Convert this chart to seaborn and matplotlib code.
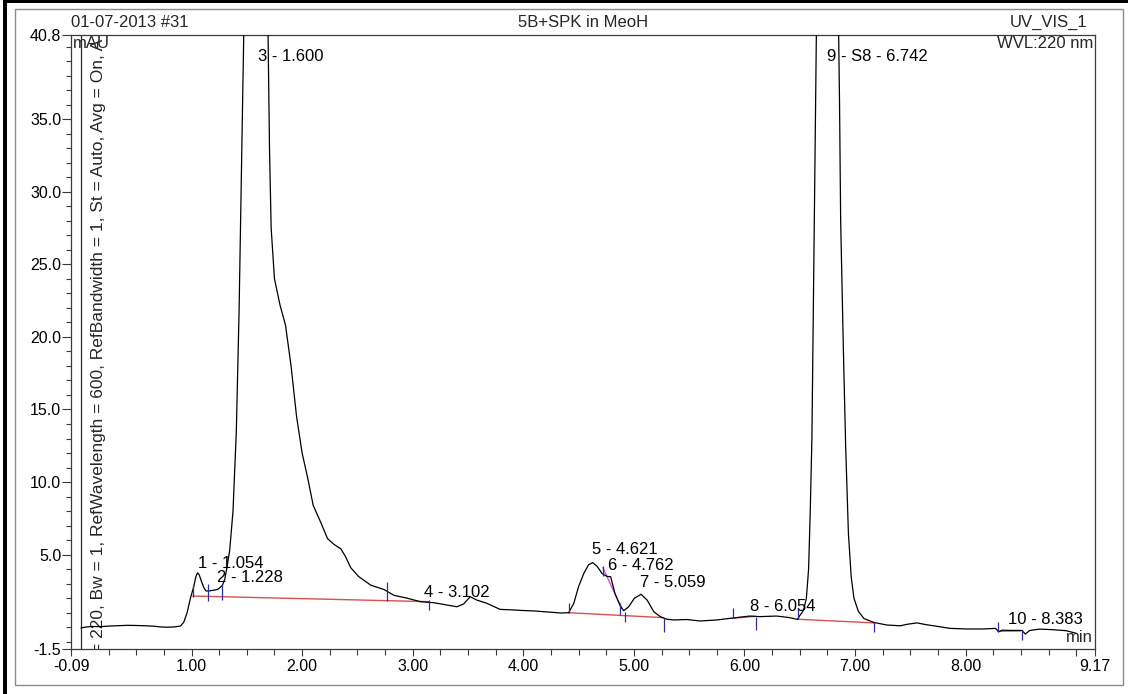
import numpy as np
import matplotlib
matplotlib.use("Agg")
import matplotlib.pyplot as plt
from matplotlib.patches import Rectangle
import seaborn as sns

# --- chromatogram trace (retention time in min, absorbance in mAU) ---
time_min = [
    0.00, 0.05, 0.10, 0.18, 0.25, 0.32, 0.42, 0.50, 0.58, 0.66, 0.72, 0.78, 0.84, 0.90,
    0.93, 0.96, 0.99, 1.02, 1.04, 1.055, 1.07, 1.09, 1.11, 1.13, 1.16, 1.20, 1.235, 1.26,
    1.28, 1.30, 1.32, 1.345, 1.375, 1.405, 1.43, 1.445, 1.46, 1.475, 1.52, 1.60, 1.66,
    1.69, 1.705, 1.72, 1.75, 1.80, 1.85, 1.90, 1.95, 2.00, 2.05, 2.10, 2.17, 2.23, 2.29,
    2.35, 2.39, 2.44, 2.51, 2.62, 2.74, 2.83, 2.95, 3.07, 3.19, 3.31, 3.40, 3.46, 3.52,
    3.58, 3.67, 3.79, 3.91, 4.00, 4.10, 4.22, 4.34, 4.41, 4.457, 4.50, 4.547, 4.59, 4.628,
    4.667, 4.713, 4.757, 4.79, 4.83, 4.878, 4.908, 4.953, 5.005, 5.065, 5.12, 5.18, 5.24,
    5.30, 5.36, 5.48, 5.60, 5.75, 5.90, 6.05, 6.14, 6.29, 6.41, 6.48, 6.50, 6.52, 6.535,
    6.56, 6.58, 6.595, 6.61, 6.63, 6.65, 6.69, 6.742, 6.80, 6.85, 6.86, 6.87, 6.895,
    6.915, 6.94, 6.965, 6.99, 7.03, 7.08, 7.17, 7.29, 7.41, 7.47, 7.56, 7.64, 7.71, 7.86,
    8.01, 8.16, 8.27, 8.30, 8.33, 8.40, 8.51, 8.54, 8.58, 8.67, 8.79, 8.91, 9.00,
]
signal_mau = [
    -0.05, 0.02, 0.05, 0.04, 0.08, 0.10, 0.13, 0.12, 0.10, 0.07, 0.02, 0.00, 0.02, 0.08,
    0.35, 1.00, 2.00, 2.80, 3.50, 3.75, 3.60, 3.15, 2.75, 2.50, 2.50, 2.55, 2.60, 2.75,
    2.90, 3.30, 4.10, 5.30, 8.00, 13.5, 21.8, 28.7, 35.6, 42.5, 56.0, 64.0, 56.0,
    42.0, 33.0, 27.5, 24.0, 22.2, 20.8, 18.0, 14.5, 12.0, 10.3, 8.4, 7.2, 6.1, 5.7,
    5.4, 4.9, 4.1, 3.5, 2.9, 2.6, 2.2, 2.0, 1.76, 1.69, 1.53, 1.41, 1.60, 2.10,
    1.87, 1.65, 1.23, 1.19, 1.15, 1.12, 1.05, 0.98, 1.00, 1.65, 2.80, 3.70, 4.30, 4.45,
    4.20, 3.70, 3.50, 3.48, 2.30, 1.46, 1.14, 1.41, 2.00, 2.27, 1.87, 1.07, 0.72,
    0.55, 0.50, 0.53, 0.43, 0.50, 0.64, 0.77, 0.73, 0.77, 0.66, 0.54, 0.80, 1.00, 1.20,
    2.00, 4.00, 8.00, 13.0, 27.0, 41.5, 60.0, 68.0, 60.0, 42.0, 36.0, 28.0, 19.0,
    12.5, 6.5, 3.5, 2.0, 1.1, 0.60, 0.33, 0.15, 0.10, 0.20, 0.30, 0.18, 0.10, -0.08,
    -0.12, -0.12, -0.08, -0.31, -0.20, -0.22, -0.22, -0.47, -0.22, -0.13, -0.17, -0.24, -0.42,
]

# --- integration baselines (start/end time and level) ---
base_t0 = [1.01, 4.41, 5.89, 6.48, 8.29]
base_v0 = [2.15, 1.00, 0.62, 0.55, -0.28]
base_t1 = [3.15, 5.27, 6.10, 7.17, 8.50]
base_v1 = [1.76, 0.66, 0.75, 0.30, -0.25]

# tangent skim under peak 6
skim_t = [4.72, 4.89]
skim_v = [4.10, 1.30]

# --- peak delimiter marks ---
mark_t = [1.01, 1.145, 1.28, 2.77, 3.15, 4.41, 4.72, 4.878, 4.918, 5.27, 5.90, 6.10, 6.48, 7.17, 8.29, 8.51]
mark_lo = [2.1, 1.8, 1.9, 1.8, 1.2, 1.0, 3.5, 0.84, 0.38, -0.3, 0.64, -0.2, 0.55, -0.3, -0.3, -0.9]
mark_hi = [2.9, 3.0, 3.0, 3.1, 1.9, 1.7, 4.2, 1.66, 1.07, 0.66, 1.3, 0.7, 1.3, 0.38, 0.38, -0.26]

# --- peak annotations ---
peak_names = ["1 - 1.054", "2 - 1.228", "3 - 1.600", "4 - 3.102", "5 - 4.621",
              "6 - 4.762", "7 - 5.059", "8 - 6.054", "9 - S8 - 6.742", "10 - 8.383"]
peak_rt = [1.054, 1.228, 1.600, 3.102, 4.621, 4.762, 5.059, 6.054, 6.742, 8.383]
peak_label_y = [4.40, 3.40, 39.3, 2.36, 5.35, 4.22, 3.05, 1.42, 39.3, 0.50]

# --- axis ticks ---
x_major = [-0.09, 1, 2, 3, 4, 5, 6, 7, 8, 9, 9.17]
x_major_labels = ["-0.09", "1.00", "2.00", "3.00", "4.00", "5.00", "6.00", "7.00", "8.00", "", "9.17"]
y_major = [-1.5, 5.0, 10.0, 15.0, 20.0, 25.0, 30.0, 35.0, 40.8]
y_major_labels = ["-1.5", "5.0", "10.0", "15.0", "20.0", "25.0", "30.0", "35.0", "40.8"]
x_lim = (-0.09, 9.17)
y_lim = (-1.5, 40.8)

TXT = 12
TICK = 11.5

sns.set_theme(style="white")
plt.rcParams["font.family"] = ["Liberation Sans", "DejaVu Sans"]
plt.rcParams["axes.edgecolor"] = "#3a3a3a"
plt.rcParams["axes.linewidth"] = 0.9

W, H = 1128, 694
fig = plt.figure(figsize=(W / 100, H / 100), dpi=100)
fig.patch.set_facecolor("white")
ax = fig.add_axes([71 / W, 1 - 649 / H, (1095 - 71) / W, (649 - 35) / H])
ax.set_facecolor("white")

# injection marker
ax.axvline(0.0, color="#2a2a2a", lw=0.9, zorder=1)

# trace
sns.lineplot(x=time_min, y=signal_mau, ax=ax, color="black", lw=0.9,
             estimator=None, sort=False, zorder=3)

# baselines
for t0, v0, t1, v1 in zip(base_t0, base_v0, base_t1, base_v1):
    ax.plot([t0, t1], [v0, v1], color="#d9514f", lw=1.0, zorder=2)
ax.plot(skim_t, skim_v, color="#d24fd0", lw=1.0, zorder=2)

# delimiters
ax.vlines(mark_t, mark_lo, mark_hi, color="#2e2e9a", lw=0.9, zorder=4)

# peak labels
for name, rt, ly in zip(peak_names, peak_rt, peak_label_y):
    ax.text(rt, ly, name, ha="left", va="center", fontsize=TXT, color="black", zorder=5)

ax.set_xlim(*x_lim)
ax.set_ylim(*y_lim)
ax.set_xticks(x_major)
ax.set_xticklabels(x_major_labels)
ax.set_xticks(np.arange(0.25, 9.01, 0.25), minor=True)
ax.set_yticks(y_major)
ax.set_yticklabels(y_major_labels)
ax.set_yticks(np.arange(-1.0, 40.5, 1.0), minor=True)
ax.tick_params(axis="both", which="both", direction="out", colors="#3a3a3a",
               labelcolor="black", labelsize=TICK, left=True, bottom=True)
ax.tick_params(axis="y", which="major", length=6.5, width=0.8, pad=0.5)
ax.tick_params(axis="y", which="minor", length=3.6, width=0.8)
ax.tick_params(axis="x", which="major", length=5, width=0.8, pad=2)
ax.tick_params(axis="x", which="minor", length=4, width=0.8)
ax.set_xlabel("")
ax.set_ylabel("")
for s in ax.spines.values():
    s.set_visible(True)
    s.set_color("#3a3a3a")

# in-plot captions
ax.text(0.002, 0.999, "mAU", transform=ax.transAxes, ha="left", va="top", fontsize=TXT)
ax.text(0.998, 0.999, "WVL:220 nm", transform=ax.transAxes, ha="right", va="top", fontsize=TXT)
ax.text(0.998, 0.006, "min", transform=ax.transAxes, ha="right", va="bottom", fontsize=TXT)
ax.text(0.16, -1.75, "= 220, Bw = 1, RefWavelength = 600, RefBandwidth = 1, St = Auto, Avg = On, A",
        rotation=90, ha="center", va="bottom", fontsize=12.5, clip_on=True, zorder=2)

# header line
ax.text(0.0, 1.008, "01-07-2013 #31", transform=ax.transAxes, ha="left", va="bottom", fontsize=TXT)
ax.text(0.5, 1.008, "5B+SPK in MeoH", transform=ax.transAxes, ha="center", va="bottom", fontsize=TXT)
ax.text(0.993, 1.008, "UV_VIS_1", transform=ax.transAxes, ha="right", va="bottom", fontsize=TXT)

# page frame
fig.add_artist(Rectangle((15 / W, 1 - 685 / H), (1123 - 15) / W, (685 - 9) / H,
                         transform=fig.transFigure, fill=False, edgecolor="#8c8c8c", lw=1.0))
fig.add_artist(Rectangle((3 / W, 0), 3.5 / W, 1, transform=fig.transFigure,
                         facecolor="black", edgecolor="none"))
fig.add_artist(Rectangle((3 / W, 1 - 2.5 / H), 1, 2.5 / H, transform=fig.transFigure,
                         facecolor="black", edgecolor="none"))

fig.savefig("out.png", dpi=100)
